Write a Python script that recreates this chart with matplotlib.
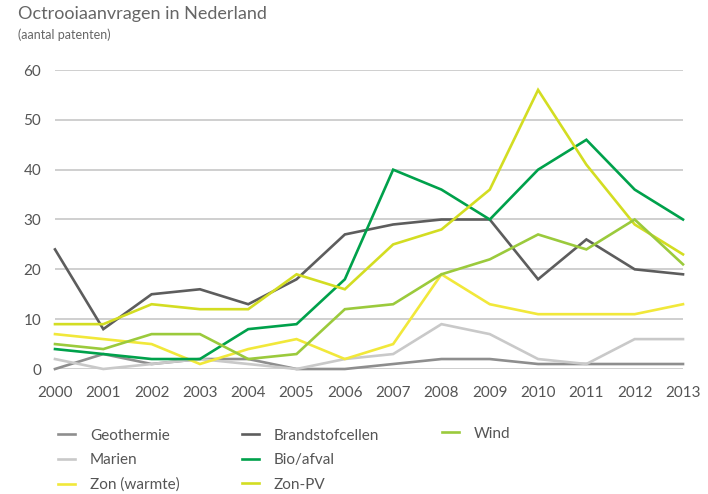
import matplotlib
matplotlib.use("Agg")
import matplotlib.pyplot as plt

years = list(range(2000, 2014))

geothermie = [0, 3, 1, 2, 2, 0, 0, 1, 2, 2, 1, 1, 1, 1]
marien = [2, 0, 1, 2, 1, 0, 2, 3, 9, 7, 2, 1, 6, 6]
zon_warmte = [7, 6, 5, 1, 4, 6, 2, 5, 19, 13, 11, 11, 11, 13]
brandstofcellen = [24, 8, 15, 16, 13, 18, 27, 29, 30, 30, 18, 26, 20, 19]
bio_afval = [4, 3, 2, 2, 8, 9, 18, 40, 36, 30, 40, 46, 36, 30]
zon_pv = [9, 9, 13, 12, 12, 19, 16, 25, 28, 36, 56, 41, 29, 23]
wind = [5, 4, 7, 7, 2, 3, 12, 13, 19, 22, 27, 24, 30, 21]

y_ticks = [0, 10, 20, 30, 40, 50, 60]

series = [
    ("Geothermie", geothermie, "#8e8e8e"),
    ("Marien", marien, "#c9c9c9"),
    ("Zon (warmte)", zon_warmte, "#f1e83a"),
    ("Brandstofcellen", brandstofcellen, "#5d5d5d"),
    ("Bio/afval", bio_afval, "#00a14b"),
    ("Zon-PV", zon_pv, "#d3dd22"),
    ("Wind", wind, "#9bca3c"),
]

plt.rcParams["font.family"] = ["Lato", "DejaVu Sans"]
text_col = "#555555"

fig = plt.figure(figsize=(7.08, 4.94), dpi=100)
ax = fig.add_axes([55 / 708, 1 - 369 / 494, 628 / 708, 299 / 494])

handles = []
for name, vals, col in series:
    (ln,) = ax.plot(years, vals, color=col, lw=1.9, label=name, clip_on=False,
                    solid_joinstyle="miter", zorder=3)
    handles.append(ln)

ax.set_xlim(2000, 2013)
ax.set_ylim(0, 60)
ax.set_yticks(y_ticks)
ax.set_xticks(years)
ax.set_xticklabels([str(y) for y in years])
ax.yaxis.grid(True, color="#cfcfcf", lw=1.4, zorder=0)
ax.xaxis.grid(False)
for s in ax.spines.values():
    s.set_visible(False)
ax.tick_params(axis="both", length=0, labelsize=11, labelcolor=text_col)
ax.tick_params(axis="x", pad=12)
ax.tick_params(axis="y", pad=10)

fig.text(18 / 708, 1 - 14 / 494, "Octrooiaanvragen in Nederland", fontsize=13,
         color="#666666", va="center", ha="left")
fig.text(18 / 708, 1 - 35 / 494, "(aantal patenten)", fontsize=9,
         color="#666666", va="center", ha="left")

# legend laid out as three columns: 3 + 3 + 1 entries
columns = [(handles[0:3], 44, 415), (handles[3:6], 228, 415), (handles[6:7], 428, 413)]
for hs, x0, y0 in columns:
    leg = fig.legend(handles=hs, labels=[h.get_label() for h in hs],
                     loc="upper left", bbox_to_anchor=(x0 / 708, 1 - y0 / 494),
                     frameon=False, fontsize=11, handlelength=1.1,
                     handletextpad=1.0, labelspacing=0.68)
    for t in leg.get_texts():
        t.set_color(text_col)

fig.savefig("out.png", dpi=100)
